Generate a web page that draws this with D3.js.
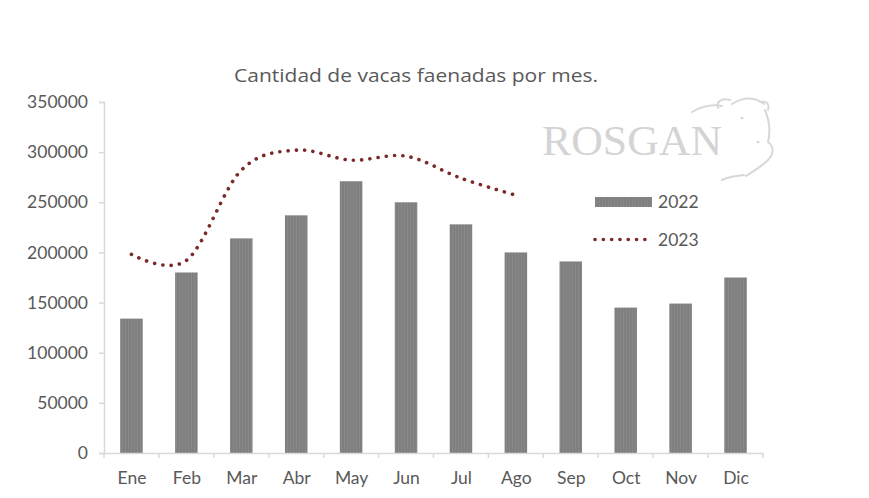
<!DOCTYPE html>
<html><head><meta charset="utf-8">
<script src="https://cdn.jsdelivr.net/npm/d3@7"></script>
<style>body{margin:0;background:#fff}</style>
</head><body>
<svg id="c" width="869" height="498"></svg>
<script>
const months = ["Ene","Feb","Mar","Abr","May","Jun","Jul","Ago","Sep","Oct","Nov","Dic"];
const values2022 = [134000,180000,214000,237000,271000,250000,228000,200000,191000,145000,149000,175000];
const months2023 = ["Ene","Feb","Mar","Abr","May","Jun","Jul","Ago"];
const values2023 = [198000,192000,282000,302000,292000,296000,274000,257000];
const yTicks = [0,50000,100000,150000,200000,250000,300000,350000];
const title = "Cantidad de vacas faenadas por mes.";

(function(){
const svg = d3.select("#c");
const font = "Lato, 'Open Sans', sans-serif";
const pLeft = 104, pRight = 763, pTop = 102, pBottom = 453;

const x = d3.scaleBand().domain(months).range([pLeft, pRight]).paddingInner(0.59).paddingOuter(0.295);
const xc = d3.scalePoint().domain(months).range([pLeft, pRight]).padding(0.5);
const y = d3.scaleLinear().domain([0, 350000]).range([pBottom, pTop]);

const defs = svg.append("defs");
const pat = defs.append("pattern").attr("id","stripe").attr("patternUnits","userSpaceOnUse")
  .attr("width",3).attr("height",4);
pat.append("rect").attr("width",3).attr("height",4).attr("fill","#7f7f7f");
pat.append("rect").attr("x",2).attr("width",1).attr("height",4).attr("fill","#888888");

svg.append("text").attr("x", 234).attr("y", 82).attr("textLength",364).attr("lengthAdjust","spacingAndGlyphs")
  .attr("font-family", "'Open Sans', sans-serif").attr("font-size", 18.5).attr("fill","#595959").text(title);

const logo = svg.append("g");
logo.append("text").attr("x",542).attr("y",155).attr("textLength",180).attr("lengthAdjust","spacingAndGlyphs")
  .attr("font-family","'Liberation Serif', serif").attr("font-size",42).attr("fill","#d4d4d4").text("ROSGAN");
logo.append("path")
  .attr("d","M692,112 C702,106 712,104 722,106 M718,108 C716,101 722,98 730,100 M732,104 C745,96 756,98 764,104 M760,102 C766,100 770,104 768,110 M765,110 C770,122 770,134 768,142 C774,146 774,154 768,160 C760,168 752,172 746,176 M722,180 C730,176 736,176 744,175")
  .attr("fill","none").attr("stroke","#d8d8d8").attr("stroke-width",2).attr("stroke-linecap","round");
logo.append("circle").attr("cx",742).attr("cy",118).attr("r",1.3).attr("fill","#d0d0d0");
logo.append("circle").attr("cx",758).attr("cy",142).attr("r",1.3).attr("fill","#d0d0d0");

const yAxis = svg.append("g").attr("transform",`translate(${pLeft},0)`)
  .call(d3.axisLeft(y).tickValues(yTicks).tickSize(5).tickPadding(11).tickFormat(d3.format("d")));
yAxis.select(".domain").attr("stroke","#d9d9d9").attr("stroke-width",1.5);
yAxis.selectAll(".tick line").attr("stroke","#d9d9d9").attr("stroke-width",1.5);
yAxis.selectAll(".tick text").attr("font-family",font).attr("font-size",17.5).attr("fill","#595959");

svg.append("g").selectAll("rect").data(values2022).join("rect")
  .attr("x",(d,i)=>x(months[i])).attr("width",x.bandwidth())
  .attr("y",d=>y(d)).attr("height",d=>pBottom - y(d))
  .attr("fill","url(#stripe)");

const step = (pRight-pLeft)/months.length;
const xAxis = svg.append("g").attr("transform",`translate(0,${pBottom})`)
  .call(d3.axisBottom(xc).tickSize(0).tickPadding(19));
xAxis.select(".domain").attr("stroke","#d9d9d9").attr("stroke-width",1.5);
xAxis.selectAll(".tick text").attr("font-family",font).attr("font-size",17.5).attr("fill","#595959");
const bx = d3.range(months.length+1).map(i=>pLeft + i*step);
svg.append("g").selectAll("line").data(bx).join("line")
  .attr("x1",d=>d).attr("x2",d=>d).attr("y1",pBottom).attr("y2",pBottom+5)
  .attr("stroke","#d9d9d9").attr("stroke-width",1.5);

const line = d3.line().x((d,i)=>xc(months2023[i])).y(d=>y(d)).curve(d3.curveCatmullRom.alpha(0));
svg.append("path").datum(values2023).attr("d",line)
  .attr("fill","none").attr("stroke","#7b2a2a").attr("stroke-width",3.6)
  .attr("stroke-linecap","round").attr("stroke-dasharray","0.1 8.2");

const lg = svg.append("g");
lg.append("rect").attr("x",595).attr("y",197).attr("width",57).attr("height",10).attr("fill","url(#stripe)");
lg.append("text").attr("x",658).attr("y",208).attr("font-family",font).attr("font-size",17.5).attr("fill","#595959").text("2022");
lg.append("line").attr("x1",595).attr("x2",651).attr("y1",239.5).attr("y2",239.5)
  .attr("stroke","#7b2a2a").attr("stroke-width",3.6).attr("stroke-linecap","round").attr("stroke-dasharray","0.1 8.2");
lg.append("text").attr("x",658).attr("y",246).attr("font-family",font).attr("font-size",17.5).attr("fill","#595959").text("2023");
})();
</script>
</body></html>
